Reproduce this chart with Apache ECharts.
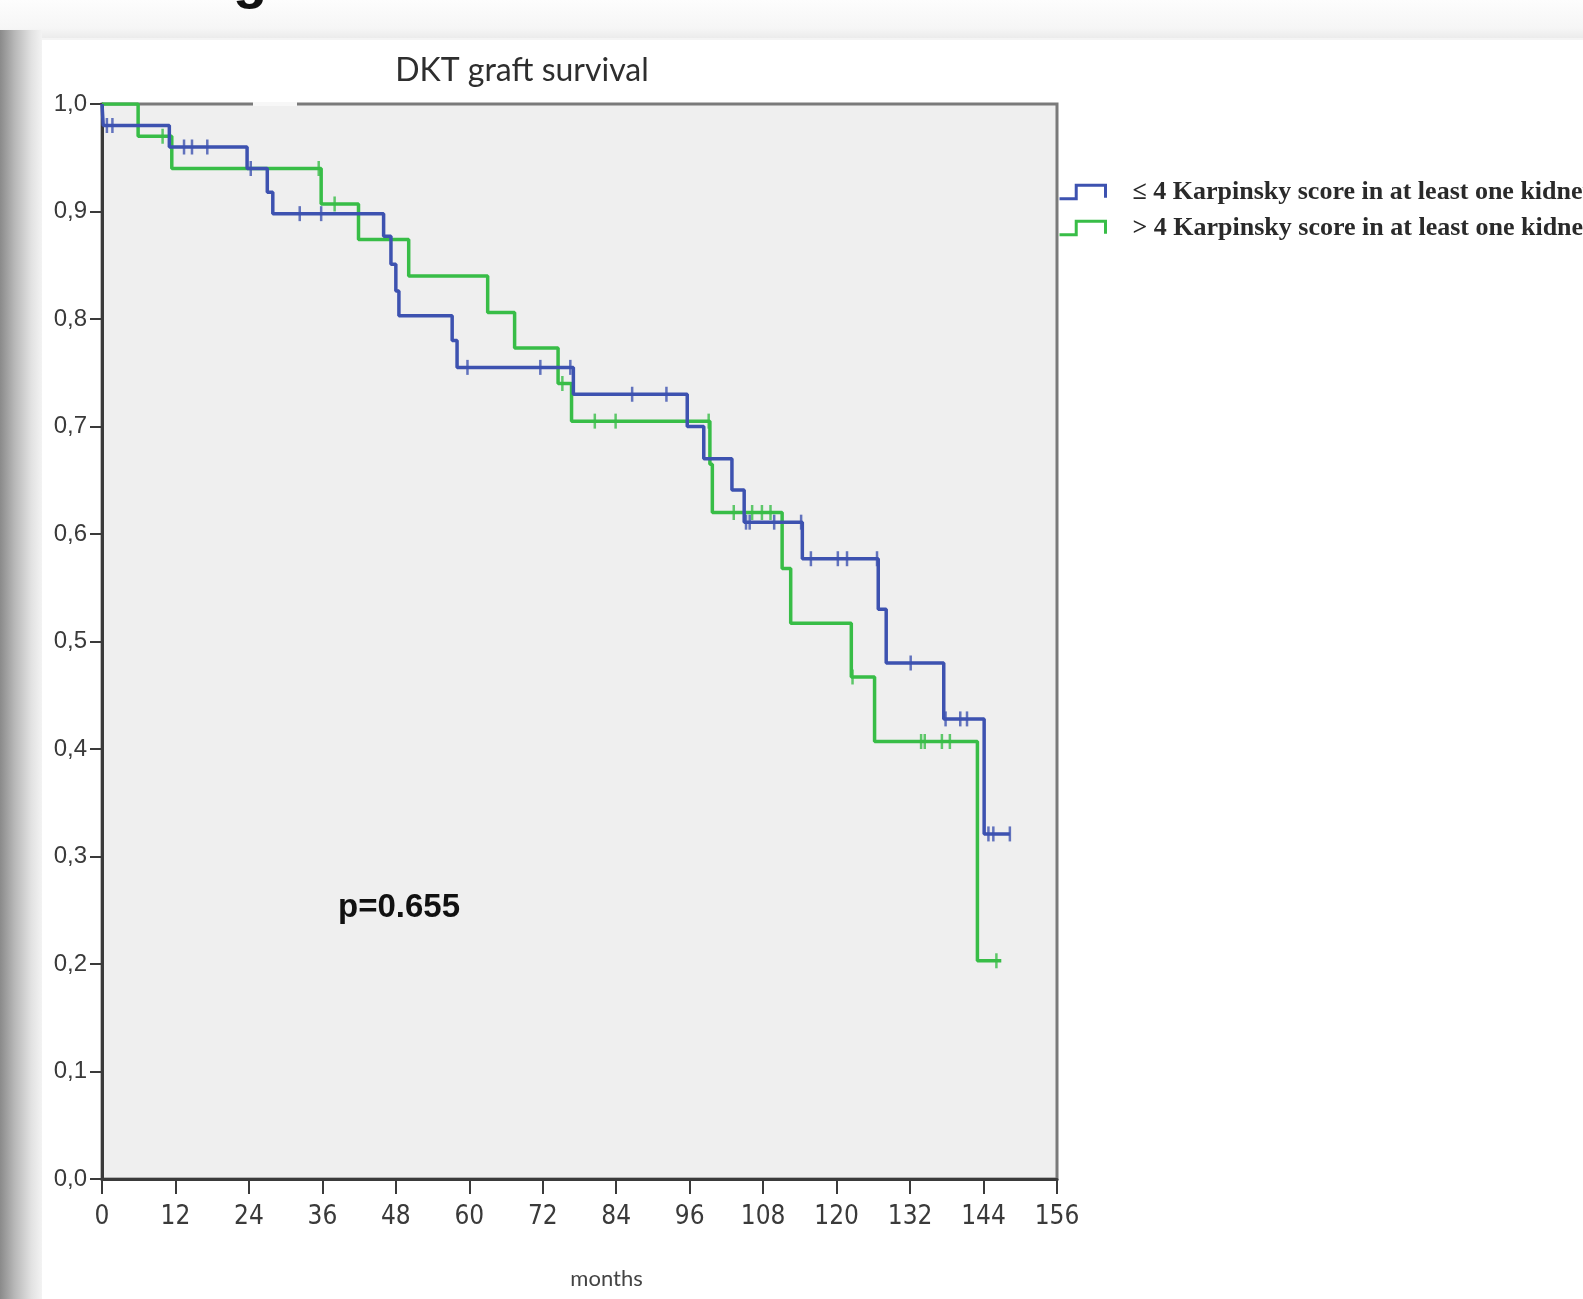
<!DOCTYPE html>
<html>
<head>
<meta charset="utf-8">
<script src="https://cdn.jsdelivr.net/npm/echarts@6/dist/echarts.min.js"></script>
<style>
  html, body { margin: 0; padding: 0; width: 1583px; height: 1299px; overflow: hidden; background: #ffffff; }
  #topband { position: absolute; left: 0; top: 0; width: 1583px; height: 40px;
    background: linear-gradient(to bottom, #fdfdfd 0%, #f6f6f6 70%, #e9e9e9 100%); }
  #leftshade { position: absolute; left: 0; top: 30px; width: 42px; height: 1269px;
    background: linear-gradient(to right, #8a8a8a 0%, #b8b8b8 35%, #e2e2e2 75%, #f3f3f3 100%); }
  #chart { position: absolute; left: 0; top: 0; width: 1583px; height: 1299px; }
</style>
</head>
<body>
<div id="topband"></div>
<div id="leftshade"></div>
<div id="chart"></div>
<script>
// ---- data (months, cumulative survival) ----
const xTicks = [0, 12, 24, 36, 48, 60, 72, 84, 96, 108, 120, 132, 144, 156];
const yTicks = [0.0, 0.1, 0.2, 0.3, 0.4, 0.5, 0.6, 0.7, 0.8, 0.9, 1.0];

const lowName = "\u2264 4 Karpinsky score in at least one kidney";
const highName = "> 4 Karpinsky score in at least one kidney";

const lowTimes = [0, 0.2, 11.0, 23.7, 27.0, 27.9, 46.0, 47.2, 48.0, 48.5, 57.2, 58.0, 77.0, 95.6, 98.3, 102.9, 104.9, 114.4, 126.8, 128.1, 137.5, 144.1];
const lowSurv  = [1.0, 0.98, 0.96, 0.94, 0.918, 0.898, 0.877, 0.851, 0.826, 0.803, 0.78, 0.755, 0.73, 0.70, 0.67, 0.641, 0.611, 0.577, 0.53, 0.48, 0.428, 0.321];
const lowCensor = [0.8, 1.7, 13.4, 14.7, 17.2, 24.3, 32.3, 35.8, 59.7, 71.6, 76.5, 86.6, 92.2, 105.2, 105.8, 109.8, 114.2, 115.8, 120.2, 121.7, 126.6, 132.1, 137.8, 140.2, 141.3, 144.8, 145.6, 148.3];
const lowEnd = 148.3;

const highTimes = [0, 5.9, 11.4, 35.8, 41.9, 50.1, 63.0, 67.4, 74.5, 76.7, 99.3, 99.7, 111.1, 112.5, 122.4, 126.2, 143.0];
const highSurv  = [1.0, 0.97, 0.94, 0.907, 0.874, 0.84, 0.806, 0.773, 0.74, 0.705, 0.665, 0.62, 0.568, 0.517, 0.467, 0.407, 0.203];
const highCensor = [9.9, 35.4, 38.0, 75.2, 80.5, 83.9, 99.1, 103.2, 106.2, 107.8, 109.2, 122.6, 133.8, 134.4, 137.2, 138.5, 146.1];
const highEnd = 146.9;

const pText = "p=0.655";
// ----------------------------------------------------------------------

const blue = '#3d52b0';
const green = '#38bd47';

function stepAt(times, surv, t) {
  let s = surv[0];
  for (let i = 0; i < times.length; i++) { if (times[i] <= t) s = surv[i]; }
  return s;
}
function curve(times, surv, end) {
  const d = times.map((t, i) => [t, surv[i]]);
  d.push([end, surv[surv.length - 1]]);
  return d;
}
function censorPts(times, surv, cens) {
  return cens.map(t => [t, stepAt(times, surv, t)]);
}

const chart = echarts.init(document.getElementById('chart'), null, { renderer: 'canvas' });

const option = {
  backgroundColor: 'transparent',
  animation: false,
  title: {
    text: 'DKT graft survival',
    left: 517, textAlign: 'center', top: 50,
    textStyle: { fontFamily: 'Lato, "Open Sans", sans-serif', fontSize: 32, fontWeight: 'normal', color: '#2e2e2e' }
  },
  legend: {
    data: [lowName, highName],
    orient: 'vertical',
    left: 1053, top: 174,
    itemWidth: 46, itemHeight: 17, itemGap: 10,
    icon: 'path://M0,15 L16,15 L16,2 L44,2 L44,14',
    itemStyle: { color: 'transparent', borderWidth: 3 },
    textStyle: { fontFamily: '"Liberation Serif", "DejaVu Serif", serif', fontWeight: 'bold', fontSize: 26, lineHeight: 20, color: '#2a2a2a', padding: [0, 0, 0, 22] }
  },
  grid: {
    left: 102, top: 104, right: 526, bottom: 120,
    show: true, backgroundColor: '#efefef', borderColor: '#7a7a7a', borderWidth: 3
  },
  xAxis: {
    type: 'value', min: 0, max: 156, interval: 12,
    name: 'months', nameLocation: 'middle', nameGap: 89,
    nameTextStyle: { fontFamily: 'Lato, "Open Sans", sans-serif', fontSize: 22, color: '#444', padding: [0, 0, 0, 54] },
    axisLine: { show: true, onZero: false, lineStyle: { color: '#3a3a3a', width: 3 } },
    axisTick: { show: true, length: 15, lineStyle: { color: '#3a3a3a', width: 2 } },
    axisLabel: { margin: 25, fontFamily: '"Liberation Sans Narrow", "DejaVu Sans Condensed", "Liberation Sans", sans-serif', fontSize: 26, color: '#3a3a3a',
      formatter: v => String(v) },
    splitLine: { show: false }
  },
  yAxis: {
    type: 'value', min: 0, max: 1, interval: 0.1,
    axisLine: { show: true, onZero: false, lineStyle: { color: '#3a3a3a', width: 3 } },
    axisTick: { show: true, length: 12, lineStyle: { color: '#3a3a3a', width: 2 } },
    axisLabel: { margin: 15, fontFamily: '"Liberation Sans", Arial, sans-serif', fontSize: 24, color: '#3a3a3a',
      formatter: v => v.toFixed(1).replace('.', ',') },
    splitLine: { show: false }
  },
  series: [
    {
      name: highName, type: 'line', step: 'end', showSymbol: false, symbol: 'none',
      data: curve(highTimes, highSurv, highEnd),
      itemStyle: { color: green, borderColor: green },
      lineStyle: { color: green, width: 3.5 }, z: 2
    },
    {
      name: 'highCensor', type: 'scatter', symbol: 'rect', symbolSize: [2.5, 15],
      data: censorPts(highTimes, highSurv, highCensor),
      itemStyle: { color: green }, z: 3
    },
    {
      name: lowName, type: 'line', step: 'end', showSymbol: false, symbol: 'none',
      data: curve(lowTimes, lowSurv, lowEnd),
      itemStyle: { color: blue, borderColor: blue },
      lineStyle: { color: blue, width: 3.5 }, z: 4
    },
    {
      name: 'lowCensor', type: 'scatter', symbol: 'rect', symbolSize: [2.5, 15],
      data: censorPts(lowTimes, lowSurv, lowCensor),
      itemStyle: { color: blue }, z: 5
    }
  ],
  graphic: [
    { type: 'rect', left: 42, top: 38, shape: { width: 1541, height: 2 }, style: { fill: '#f4f4f4' }, z: -1 },
    { type: 'rect', left: 253, top: 102, shape: { width: 44, height: 4 }, style: { fill: '#f7f7f7' }, z: 100 },
    { type: 'text', left: 233, top: -46, style: { text: 'g', font: 'bold 56px "Liberation Sans", Arial, sans-serif', fill: '#111' }, z: 100 },
    { type: 'text', left: 338, top: 891, style: { text: pText, font: 'bold 33px "Liberation Sans", Arial, sans-serif', fill: '#111' }, z: 100 }
  ]
};
chart.setOption(option);
</script>
</body>
</html>
